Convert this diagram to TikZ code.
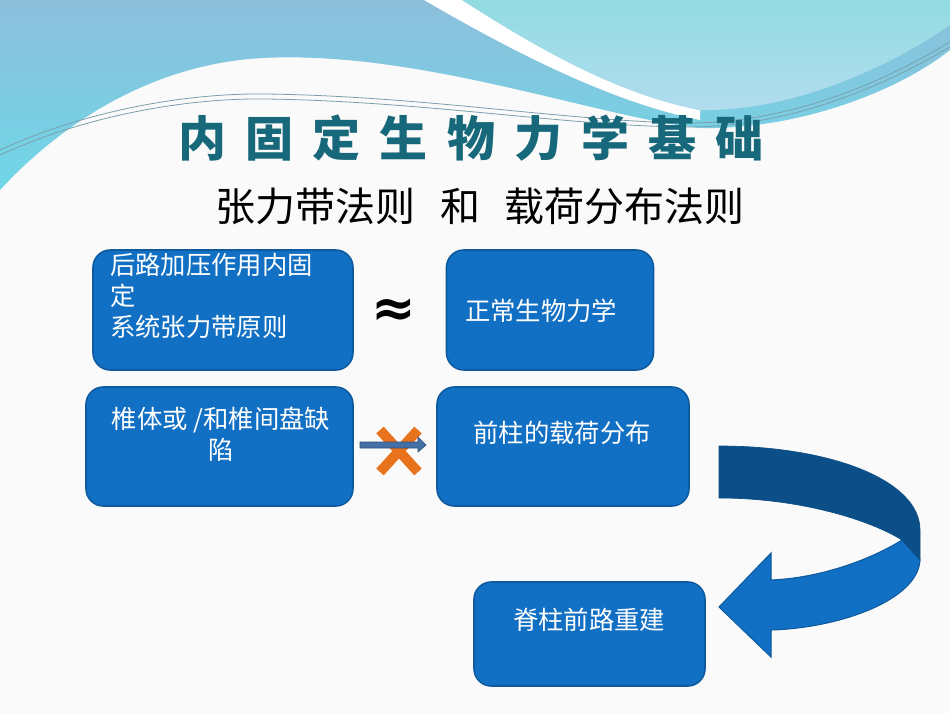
\documentclass[tikz,border=0pt]{standalone}
\usepackage{fontspec}
\newfontfamily\cjk{Noto Sans CJK SC}
\newfontfamily\cjktitle{Noto Sans CJK SC}[LetterSpace=40]
\newfontfamily\symfont{DejaVu Sans}
\definecolor{pagebg}{HTML}{FAFAFA}
\definecolor{boxblue}{HTML}{1270C4}
\definecolor{boxedge}{HTML}{0E5A9E}
\definecolor{darkband}{HTML}{0B4E88}
\definecolor{titleteal}{HTML}{17687A}
\definecolor{xorange}{HTML}{E8731C}
\definecolor{arrowsteel}{HTML}{4470A8}
\definecolor{arrowedge}{HTML}{2F4F7A}
\definecolor{skyA}{HTML}{8CBFDB}
\definecolor{skyB}{HTML}{6FD7E7}
\definecolor{aquaA}{HTML}{92DCE1}
\definecolor{aquaB}{HTML}{B2DCEF}
\definecolor{wire}{HTML}{7B9FAB}
\tikzset{
  bluebox/.style={draw=boxedge, line width=1.2pt, fill=boxblue, rounded corners=13pt, inner sep=0pt},
  boxtext/.style={inner sep=0pt, text=white, font=\cjk\fontsize{19}{23}\selectfont},
}
\begin{document}
\begin{tikzpicture}[x=0.75pt,y=-0.75pt]
\useasboundingbox (0,0) rectangle (950,713);
\fill[pagebg] (0,0) rectangle (950,713);
% header waves
\shade[top color=skyA, bottom color=skyB]
  (0,0) -- (950,0) -- (950,50) .. controls (900,90) and (800,130) .. (700,128)
  .. controls (600,118) and (420,50) .. (263,58) .. controls (150,64) and (60,125) .. (0,190) -- cycle;
\fill[white] (424,0) .. controls (510,50) and (610,102) .. (700,120)
  -- (700,110) .. controls (620,95) and (540,50) .. (462,0) -- cycle;
\shade[top color=aquaA, bottom color=aquaB]
  (462,0) .. controls (540,50) and (620,95) .. (700,110)
  .. controls (800,112) and (900,60) .. (950,25) -- (950,0) -- cycle;
\draw[wire, line width=0.6pt]
  (0,150) .. controls (80,113) and (180,93) .. (265,94) .. controls (420,96) and (560,120) .. (680,123) .. controls (800,125) and (900,72) .. (950,42);
\draw[wire, line width=0.6pt]
  (0,155) .. controls (80,118) and (180,98) .. (265,99) .. controls (420,101) and (560,125) .. (680,127) .. controls (800,129) and (900,76) .. (950,47);
% title and subtitle
\node[inner sep=0pt, anchor=west, text=titleteal, font=\cjktitle\bfseries\fontsize{36}{40}\selectfont] (title) at (178,138) {内固定生物力学基础};
\node[inner sep=0pt, anchor=west, font=\cjk\fontsize{30}{34}\selectfont] (subtitle) at (215,206) {张力带法则\hspace{19pt}和\hspace{18pt}载荷分布法则};
% boxes
\node[bluebox, minimum width=195pt, minimum height=90pt] (boxA) at (223,310) {};
\node[bluebox, minimum width=155.25pt, minimum height=90pt] (boxB) at (550,310) {};
\node[bluebox, minimum width=200.25pt, minimum height=89.25pt] (boxC) at (219.5,446.5) {};
\node[bluebox, minimum width=189pt, minimum height=89.25pt] (boxD) at (563,446.5) {};
\node[bluebox, minimum width=173.25pt, minimum height=78pt] (boxE) at (589.5,634) {};
% box texts
\node[boxtext, anchor=west, align=left] (textA) at (110,296) {后路加压作用内固\\定\\系统张力带原则};
\node[boxtext] (textB) at (541,311) {正常生物力学};
\node[boxtext, align=center] (textC) at (221,434) {椎体或 /和椎间盘缺\\陷};
\node[boxtext] (textD) at (562,433) {前柱的载荷分布};
\node[boxtext] (textE) at (589,620) {脊柱前路重建};
% approx sign
\node[inner sep=0pt, font=\symfont\bfseries\fontsize{40}{44}\selectfont] (approx) at (394,313) {≈};
% crossed arrow
\draw[xorange, line width=7.5pt] (380,430) -- (418,472);
\draw[xorange, line width=7.5pt] (418,430) -- (380,472);
\draw[arrowedge, fill=arrowsteel, line width=0.5pt]
  (360,442) -- (418,442) -- (418,437) -- (426,445) -- (418,452) -- (418,448) -- (360,448) -- cycle;
% curved arrow
\fill[boxblue, draw=boxedge, line width=0.8pt]
  (902,540) -- (920,560) .. controls (918,600) and (840,628) .. (771,630)
  -- (771,657) -- (719,607) -- (771,553) -- (771,580)
  .. controls (820,578) and (870,560) .. (902,540) -- cycle;
\fill[darkband, draw=darkband, line width=0.5pt]
  (719,446) .. controls (830,446) and (920,480) .. (920,530) -- (920,560)
  -- (902,540) .. controls (870,520) and (800,498) .. (719,498) -- cycle;
\end{tikzpicture}
\end{document}
